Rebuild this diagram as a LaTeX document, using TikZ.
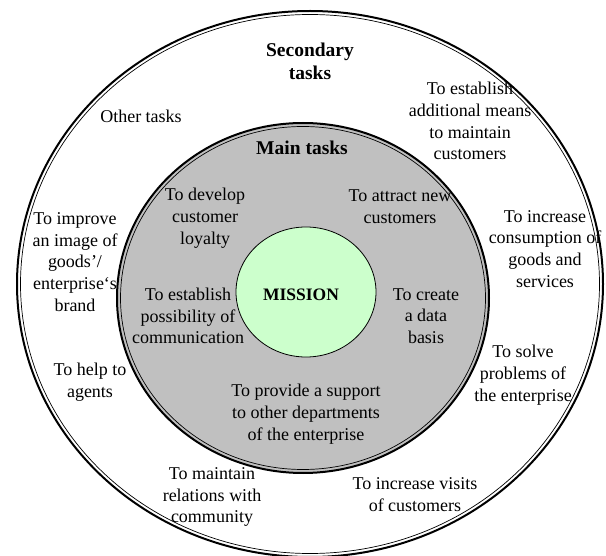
\documentclass[tikz,border=0pt]{standalone}
\usepackage{fontspec}
\setmainfont{Liberation Serif}
\definecolor{graybg}{HTML}{C0C0C0}
\definecolor{missiongreen}{HTML}{CCFFCC}
\begin{document}
\begin{tikzpicture}[x=1pt,y=-1pt,
  txt/.style={align=center, font=\fontsize{18}{21.8}\selectfont, inner sep=0pt},
  head/.style={align=center, font=\fontsize{19.5}{23}\selectfont\bfseries, inner sep=0pt},
  outerline/.style={line width=2},
  innerline/.style={line width=0.7}]
\useasboundingbox (0,0) rectangle (606,556);
\fill[white] (0,0) rectangle (606,556);
% outer circle (double border)
\draw[outerline] (310,284) ellipse [x radius=293, y radius=273];
\draw[innerline] (310,284) ellipse [x radius=289.5, y radius=269.5];
% main tasks circle
\fill[graybg] (303,298) ellipse [x radius=186, y radius=175];
\draw[outerline] (303,298) ellipse [x radius=186, y radius=175];
\draw[innerline] (303,298) ellipse [x radius=182.5, y radius=171.5];
% mission circle
\filldraw[fill=missiongreen, draw=black, line width=0.8] (306,292) ellipse [x radius=70, y radius=65];

\node[head] (secondary) at (310,61) {Secondary\\tasks};
\node[txt] (other) at (141,116) {Other tasks};
\node[txt] (means) at (470,121) {To establish\\additional means\\to maintain\\customers};
\node[head] (main) at (302,148) {Main tasks};
\node[txt] (loyalty) at (205,218) {To develop\\customer\\loyalty};
\node[txt] (attract) at (400,207) {To attract new\\customers};
\node[txt] (image) at (75,262) {To improve\\an image of\\goods’/\\enterprise‘s\\brand};
\node[txt] (consumption) at (545,249) {To increase\\consumption of\\goods and\\services};
\node[txt] (communication) at (188,316) {To establish\\possibility of\\communication};
\node[txt, font=\fontsize{17.5}{21}\selectfont\bfseries] (mission) at (301,295) {MISSION};
\node[txt] (data) at (426,316) {To create\\a data\\basis};
\node[txt] (agents) at (90,382) {To help to\\agents};
\node[txt] (problems) at (523,375) {To solve\\problems of\\the enterprise};
\node[txt] (support) at (306,414) {To provide a support\\to other departments\\of the enterprise};
\node[txt] (community) at (212,497) {To maintain\\relations with\\community};
\node[txt] (visits) at (415,495) {To increase visits\\of customers};
\end{tikzpicture}
\end{document}
